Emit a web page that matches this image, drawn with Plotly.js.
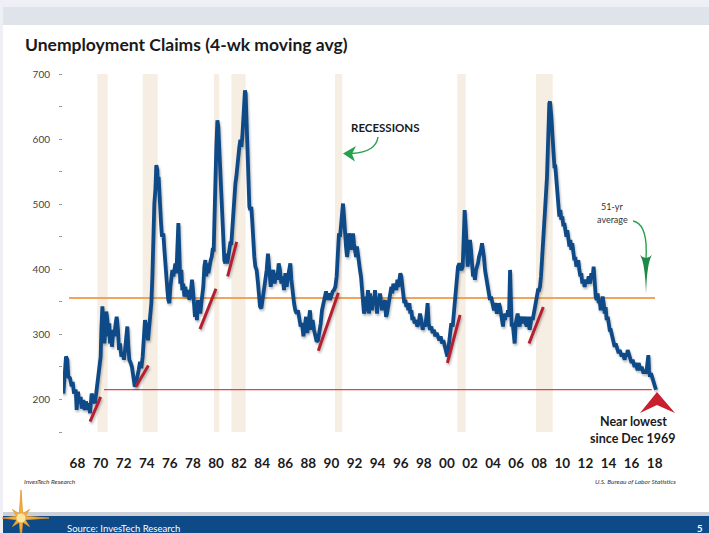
<!DOCTYPE html>
<html>
<head>
<meta charset="utf-8">
<script src="https://cdn.plot.ly/plotly-3.0.1.min.js"></script>
<style>
  html, body { margin: 0; padding: 0; background: #ffffff; }
  #chart { width: 709px; height: 533px; }
  .scatterlayer .trace:nth-child(n+3) path.js-line { filter: drop-shadow(1.5px 2px 1.2px rgba(0,0,0,0.28)); }
</style>
</head>
<body>
<div id="chart"></div>
<script>
// ---------------- DATA ----------------
// Unemployment claims, 4-wk moving average (thousands)
const yearsA = [
 1966.98,1967.21,1967.32,1967.41,1967.55,1967.70,1967.79,1967.90,1968.05,1968.13,
 1968.25,1968.36,1968.48,1968.57,1968.71,1968.83,1968.94,1969.06,1969.17,1969.29,
 1969.43,1969.58,1969.72,1969.86,1970.01,1970.10,1970.21,1970.27,1970.36,1970.44,
 1970.53,1970.62,1970.70,1970.79,1970.88,1970.96,1971.02,1971.11,1971.19,1971.31,
 1971.39,1971.51,1971.60,1971.71,1971.80,1971.89,1972.00,1972.12,1972.23,1972.32,
 1972.41,1972.52,1972.61,1972.69,1972.81,1972.92,1973.04,1973.16,1973.27,1973.39,
 1973.50,1973.62,1973.73,1973.85,1973.96,1974.05,1974.14,1974.22,1974.31,1974.40,
 1974.48,1974.60,1974.69,1974.77,1974.86,1974.95,1975.03,1975.12,1975.18,1975.23,
 1975.29,1975.35,1975.44,1975.52,1975.64,1975.73,1975.81,1975.90,1975.99,1976.07,
 1976.16,1976.25,1976.33,1976.42,1976.51,1976.59,1976.68,1976.77,1976.85,1976.94,
 1977.02,1977.11,1977.20,1977.28,1977.37,1977.46,1977.54,1977.66,1977.78,1977.89,
 1978.01,1978.12,1978.21,1978.30,1978.38,1978.47,1978.55,1978.64,1978.76,1978.84,
 1978.93,1979.02,1979.10,1979.19,1979.28,1979.36,1979.45,1979.54,1979.62,1979.74,
 1979.83,1979.91,1980.00,1980.06,1980.14,1980.23,1980.32,1980.40,1980.49,1980.58,
 1980.66,1980.75,1980.84,1980.92,1981.01,1981.10,1981.18,1981.27,1981.36,1981.44,
 1981.53,1981.62,1981.70,1981.79,1981.88,1981.96,1982.05,1982.14,1982.22,1982.31,
 1982.40,1982.48,1982.57,1982.66,1982.71,1982.77,1982.83,1982.91,1983.00,1983.09,
 1983.17,1983.26,1983.35,1983.43,1983.52,1983.61,1983.72,1983.84,1983.93,1984.01
];
const claimsA = [
 209,266,261,235,233,220,227,209,215,184,
 212,194,204,186,199,184,197,184,194,179,
 209,202,194,215,235,256,266,307,343,317,
 286,307,335,322,297,317,286,302,281,307,
 297,317,327,307,276,286,266,271,261,276,
 297,312,281,261,256,250,235,220,225,240,
 245,258,248,266,297,322,314,307,291,312,
 322,348,389,460,501,522,560,553,522,542,
 512,501,471,450,455,430,404,378,368,353,
 348,373,394,399,389,404,409,394,430,471,
 430,378,399,368,378,358,373,358,368,353,
 363,384,368,348,327,348,322,353,337,332,
 348,358,373,404,414,389,409,394,404,414,
 419,430,430,460,527,588,629,619,578,553,
 537,491,445,414,409,424,409,419,422,440,
 440,466,491,512,532,542,563,578,588,599,
 588,604,640,665,675,670,629,573,537,496,
 491,496,471,440,419,404,399,378,358,343
];
const yearsB = [
 1984.13,1984.24,1984.36,1984.47,1984.59,1984.70,1984.82,1984.94,1985.05,1985.17,
 1985.28,1985.40,1985.51,1985.63,1985.74,1985.86,1985.98,1986.09,1986.21,1986.32,
 1986.44,1986.55,1986.64,1986.73,1986.84,1986.96,1987.07,1987.19,1987.30,1987.42,
 1987.53,1987.65,1987.77,1987.88,1988.00,1988.11,1988.23,1988.34,1988.46,1988.57,
 1988.69,1988.80,1988.92,1989.04,1989.15,1989.27,1989.38,1989.50,1989.61,1989.73,
 1989.84,1989.96,1990.07,1990.19,1990.31,1990.42,1990.54,1990.65,1990.77,1990.85,
 1990.94,1991.03,1991.11,1991.20,1991.29,1991.37,1991.46,1991.55,1991.63,1991.72,
 1991.81,1991.89,1991.98,1992.07,1992.15,1992.24,1992.33,1992.41,1992.50,1992.59,
 1992.67,1992.76,1992.85,1992.93,1993.02,1993.11,1993.19,1993.28,1993.37,1993.45,
 1993.54,1993.63,1993.71,1993.80,1993.89,1993.97,1994.06,1994.15,1994.23,1994.32,
 1994.41,1994.49,1994.58,1994.67,1994.75,1994.84,1994.93,1995.01,1995.10,1995.21,
 1995.30,1995.39,1995.47,1995.56,1995.65,1995.73,1995.82,1995.91,1995.99,1996.08,
 1996.17,1996.25,1996.34,1996.43,1996.51,1996.60,1996.69,1996.77,1996.86,1996.95,
 1997.03,1997.12,1997.21,1997.29,1997.41,1997.52,1997.64,1997.76,1997.87,1997.99,
 1998.10,1998.22,1998.33,1998.45,1998.53,1998.62,1998.74,1998.85,1998.97,1999.08,
 1999.20,1999.31,1999.43,1999.55,1999.66,1999.78,1999.89,2000.01,2000.12,2000.24,
 2000.35,2000.47,2000.58,2000.70,2000.81,2000.93,2001.04,2001.16,2001.28
];
const claimsB = [
 340,353,373,378,399,424,399,373,389,399,
 378,394,384,409,399,378,389,368,394,373,
 389,399,409,384,363,348,337,332,337,322,
 312,317,297,312,327,302,317,337,307,322,
 307,297,289,291,302,317,337,348,358,366,
 353,363,353,363,366,368,373,389,419,455,
 450,465,486,501,481,450,435,419,430,455,
 450,430,445,455,440,424,419,435,419,409,
 399,389,368,348,332,337,358,348,368,332,
 363,348,337,358,348,368,353,332,353,348,
 363,348,337,348,342,353,327,332,342,358,
 368,373,363,378,368,378,368,384,373,389,
 394,389,373,358,348,353,342,348,337,348,
 332,337,322,327,317,322,312,317,332,322,
 307,317,312,332,348,317,307,312,302,307,
 297,302,297,291,297,286,291,281,276,266,
 281,297,317,312,337,368,389,404,409
];
const yearsC = [
 2001.45,2001.57,2001.65,2001.74,2001.83,2001.91,2002.00,2002.09,2002.20,2002.29,
 2002.37,2002.46,2002.55,2002.63,2002.72,2002.81,2002.89,2002.98,2003.07,2003.15,
 2003.24,2003.33,2003.41,2003.50,2003.59,2003.67,2003.76,2003.85,2003.93,2004.02,
 2004.11,2004.19,2004.28,2004.37,2004.45,2004.54,2004.63,2004.71,2004.80,2004.89,
 2004.97,2005.06,2005.15,2005.23,2005.32,2005.41,2005.49,2005.58,2005.67,2005.72,
 2005.81,2005.90,2005.98,2006.07,2006.16,2006.24,2006.33,2006.42,2006.50,2006.59,
 2006.68,2006.76,2006.85,2006.94,2007.02,2007.11,2007.20,2007.28,2007.37,2007.46,
 2007.54,2007.63,2007.72,2007.80,2007.89,2007.98,2008.09,2008.18,2008.26,2008.35,
 2008.44,2008.52,2008.61,2008.70,2008.78,2008.87,2008.96,2009.02,2009.07,2009.13,
 2009.19,2009.25,2009.33,2009.42,2009.51,2009.59,2009.68,2009.77,2009.85,2009.94,
 2010.03,2010.11,2010.20,2010.29,2010.37,2010.46,2010.55,2010.63,2010.72,2010.81,
 2010.89,2010.98,2011.06,2011.15,2011.24,2011.32,2011.41,2011.50,2011.58,2011.67,
 2011.76,2011.84,2011.93,2012.02,2012.13,2012.25,2012.36,2012.48,2012.60,2012.71,
 2012.83,2012.91,2013.00,2013.09,2013.17,2013.26,2013.35,2013.43,2013.52,2013.61,
 2013.69,2013.78,2013.87,2013.95,2014.04,2014.13,2014.21,2014.30,2014.39,2014.47,
 2014.56,2014.65,2014.73,2014.82,2014.91,2014.99,2015.08,2015.17,2015.25,2015.34,
 2015.43,2015.51,2015.60,2015.68,2015.77,2015.86,2015.94,2016.03,2016.12,2016.20,
 2016.29,2016.38,2016.46,2016.55,2016.64,2016.72,2016.81,2016.90,2016.98,2017.07,
 2017.16,2017.24,2017.33,2017.42,2017.50,2017.59,2017.65,2017.71,2017.79,2017.88,
 2017.97,2018.05,2018.14,2018.23,2018.31
];
const claimsC = [
 399,404,440,491,465,419,404,419,445,430,
 399,389,394,384,399,404,409,419,424,430,
 440,430,419,399,389,378,368,358,353,358,
 348,342,337,348,342,332,337,348,342,327,
 317,312,332,322,332,327,337,327,399,327,
 312,317,297,286,317,327,332,317,312,327,
 322,317,327,322,317,312,327,317,307,317,
 327,322,332,337,348,353,368,368,373,389,
 409,440,465,491,512,542,593,640,655,658,
 650,634,609,573,558,558,537,512,491,481,
 491,476,481,466,471,455,450,460,440,435,
 445,430,440,424,414,419,404,409,414,399,
 389,394,378,384,373,384,378,389,378,394,
 389,404,368,358,353,363,348,353,337,353,
 358,348,332,342,322,327,317,307,307,302,
 297,286,281,286,281,276,271,276,271,266,
 271,266,261,271,266,276,271,266,261,256,
 261,256,250,256,250,245,256,250,245,250,
 245,240,245,240,245,261,268,245,235,240,
 235,230,225,220,215
];

// Recession periods (decimal years)
const recessionStart = [1969.92, 1973.85, 1980.03, 1981.53, 1990.51, 2001.10, 2007.92];
const recessionEnd   = [1970.82, 1975.15, 1980.49, 1982.77, 1991.14, 2001.83, 2009.37];

// Pre-recession trend lines (start year, start value, end year, end value)
const trendStartYear = [1969.29, 1973.27, 1978.81, 1981.21, 1989.06, 2000.24, 2007.31];
const trendStartVal  = [166, 220, 308, 389, 275, 256, 286];
const trendEndYear   = [1970.21, 1974.34, 1980.20, 1981.99, 1990.80, 2001.34, 2008.55];
const trendEndVal    = [204, 252, 370, 442, 364, 330, 342];

// Reference levels
const averageValue = 356;           // 51-yr average
const averageSpan  = [1967.47, 2018.23];
const lowValue     = 215;           // near lowest since Dec 1969
const lowSpan      = [1970.50, 2017.95];

// Axis ticks
const xTickYears  = [1968,1970,1972,1974,1976,1978,1980,1982,1984,1986,1988,1990,1992,1994,1996,1998,2000,2002,2004,2006,2008,2010,2012,2014,2016,2018];
const xTickLabels = ['68','70','72','74','76','78','80','82','84','86','88','90','92','94','96','98','00','02','04','06','08','10','12','14','16','18'];
const yTickVals   = [150,200,250,300,350,400,450,500,550,600,650,700];
const yTickLabels = ['','200','','300','','400','','500','','600','','700'];

// ---------------- LAYOUT HELPERS ----------------
const W = 709, H = 533, ML = 63, MR = 39, MT = 74, MB = 101;
const PW = W - ML - MR, PH = H - MT - MB;
const X = px => (px - ML) / PW;
const Y = py => (H - MB - py) / PH;
const pth = pts => 'M ' + pts.map(p => X(p[0]).toFixed(5) + ',' + Y(p[1]).toFixed(5)).join(' L ') + ' Z';
const rectP = (x0, y0, x1, y1, color, layer) => ({type:'rect', xref:'paper', yref:'paper', x0:X(x0), x1:X(x1), y0:Y(y1), y1:Y(y0), fillcolor:color, line:{width:0}, layer: layer || 'below'});

const claimYears = yearsA.concat(yearsB, yearsC);
const claimVals = claimsA.concat(claimsB, claimsC);

const tx = [], ty = [];
for (let i = 0; i < trendStartYear.length; i++) {
  tx.push(trendStartYear[i], trendEndYear[i], null);
  ty.push(trendStartVal[i], trendEndVal[i], null);
}

const traces = [
  {x: averageSpan, y: [averageValue, averageValue], mode: 'lines', line: {color: '#f0a45c', width: 2}, hoverinfo: 'skip'},
  {x: lowSpan, y: [lowValue, lowValue], mode: 'lines', line: {color: '#e0404e', width: 1.3}, hoverinfo: 'skip'},
  {x: claimYears, y: claimVals, mode: 'lines', line: {color: '#0f4a88', width: 3.8, shape: 'linear'}, hoverinfo: 'skip'},
  {x: tx, y: ty, mode: 'lines', line: {color: '#b51f30', width: 3}, connectgaps: false, hoverinfo: 'skip'}
];

const shapes = [];
// page decoration
shapes.push(rectP(3, 25, 709, 513, '#ffffff'));
shapes.push(rectP(3, 7, 709, 25, '#dfe3ea'));
shapes.push(rectP(3, 512, 709, 516, '#cdd1d7'));
shapes.push(rectP(3, 516, 709, 533, '#0e4a87'));
// recession bands
for (let i = 0; i < recessionStart.length; i++) {
  shapes.push({type:'rect', xref:'x', yref:'paper', x0: recessionStart[i], x1: recessionEnd[i], y0: 0, y1: 1,
               fillcolor: '#f7eee3', line: {width: 0}, layer: 'below'});
}
// compass star logo
(function(){
  const cx = 21, cy = 518;
  const lens = [28, 12, 28, 12, 22, 12, 19, 12];
  const pts = [];
  for (let k = 0; k < 8; k++) {
    const a = (k * 45 - 90) * Math.PI / 180;
    pts.push([cx + lens[k] * Math.cos(a), cy + lens[k] * Math.sin(a)]);
    const b = (k * 45 - 90 + 22.5) * Math.PI / 180;
    pts.push([cx + 4.5 * Math.cos(b), cy + 4.5 * Math.sin(b)]);
  }
  shapes.push({type:'path', xref:'paper', yref:'paper', path: pth(pts), fillcolor:'#f3b23c', line:{color:'#e0962a', width:0.8}, layer:'above'});
  shapes.push({type:'circle', xref:'paper', yref:'paper', x0:X(cx-5), x1:X(cx+5), y0:Y(cy+5), y1:Y(cy-5), fillcolor:'#fce4a2', line:{color:'#e6a53a', width:0.8}, layer:'above'});
})();
// RECESSIONS arrow
shapes.push({type:'path', xref:'paper', yref:'paper',
  path: 'M ' + X(378) + ',' + Y(137) + ' Q ' + X(376) + ',' + Y(152) + ' ' + X(352) + ',' + Y(153.5),
  line: {color: '#27a04b', width: 1.4}, layer: 'above'});
shapes.push({type:'path', xref:'paper', yref:'paper', path: pth([[343,153.5],[356,146],[352,154],[355,161.5]]),
  fillcolor: '#27a04b', line: {width: 0}, layer: 'above'});
// 51-yr average arrow
shapes.push({type:'path', xref:'paper', yref:'paper',
  path: 'M ' + X(633) + ',' + Y(221) + ' Q ' + X(648) + ',' + Y(224) + ' ' + X(646) + ',' + Y(258),
  line: {color: '#27a04b', width: 1.4}, layer: 'above'});
shapes.push({type:'path', xref:'paper', yref:'paper',
  path: 'M ' + X(640) + ',' + Y(255) + ' Q ' + X(645) + ',' + Y(262) + ' ' + X(646) + ',' + Y(294) +
        ' Q ' + X(647) + ',' + Y(262) + ' ' + X(652) + ',' + Y(255) +
        ' Q ' + X(646) + ',' + Y(261) + ' ' + X(640) + ',' + Y(255) + ' Z',
  fillcolor: '#1c8a44', line: {width: 0}, layer: 'above'});
// red arrow head "near lowest"
shapes.push({type:'path', xref:'paper', yref:'paper', path: pth([[657,392],[675,413],[657,405],[640,413]]),
  fillcolor: '#c8202f', line: {width: 0}, layer: 'above'});

const ann = (px, py, text, opts) => Object.assign({xref:'paper', yref:'paper', x: X(px), y: Y(py), text: text,
  showarrow: false, xanchor: 'center', yanchor: 'middle', font: {family: 'Lato, "Open Sans", sans-serif', size: 11, color: '#1a1a1a'}}, opts || {});

const annotations = [
  ann(385, 127, '<b>RECESSIONS</b>', {font: {family: 'Lato, sans-serif', size: 11.5, color: '#1a1a1a'}}),
  ann(612, 206, '51-yr', {font: {family: 'Lato, sans-serif', size: 9, color: '#333'}}),
  ann(612, 219, 'average', {font: {family: 'Lato, sans-serif', size: 9, color: '#333'}}),
  ann(633, 421.5, '<b>Near lowest</b>', {font: {family: 'Lato, sans-serif', size: 12.5, color: '#1a1a1a'}}),
  ann(633, 438.5, '<b>since Dec 1969</b>', {font: {family: 'Lato, sans-serif', size: 12.5, color: '#1a1a1a'}}),
  ann(22, 481.5, '<i>InvesTech Research</i>', {xanchor: 'left', font: {family: 'Lato, sans-serif', size: 6.5, color: '#333'}}),
  ann(678, 481.5, '<i>U.S. Bureau of Labor Statistics</i>', {xanchor: 'right', font: {family: 'Lato, sans-serif', size: 6.5, color: '#333'}}),
  ann(65, 528.5, 'Source: InvesTech Research', {xanchor: 'left', font: {family: 'Lato, sans-serif', size: 9.5, color: '#ffffff'}}),
  ann(700, 528, '<b>5</b>', {font: {family: 'Lato, sans-serif', size: 9.5, color: '#ffffff'}})
];

const layout = {
  width: W, height: H,
  margin: {l: ML, r: MR, t: MT, b: MB, pad: 0},
  paper_bgcolor: '#eef0f6',
  plot_bgcolor: 'rgba(0,0,0,0)',
  showlegend: false,
  title: {text: '<b>Unemployment Claims (4-wk moving avg)</b>', xref: 'container', yref: 'container',
          x: 25 / W, xanchor: 'left', y: 1 - 45 / H, yanchor: 'middle',
          font: {family: 'Lato, "Open Sans", sans-serif', size: 17.5, color: '#1a1a1a'}},
  xaxis: {type: 'linear', range: [1966.948, 1966.948 + PW / 11.545], showgrid: false, zeroline: false, showline: false,
          tickmode: 'array', tickvals: xTickYears.map(v => v + 0.2), ticktext: xTickLabels, ticks: '',
          ticklabelstandoff: 21,
          tickfont: {family: 'Lato, sans-serif', size: 13.5, color: '#1a1a1a', weight: 'bold'}, fixedrange: true},
  yaxis: {range: [150, 700], showgrid: false, zeroline: false, showline: false,
          tickmode: 'array', tickvals: yTickVals, ticktext: yTickLabels, ticks: 'outside', ticklen: 3, tickwidth: 1,
          tickcolor: '#9a9a9a', ticklabelstandoff: 7,
          tickfont: {family: 'Lato, sans-serif', size: 10, color: '#444'}, fixedrange: true},
  shapes: shapes,
  annotations: annotations
};

Plotly.newPlot('chart', traces, layout, {displayModeBar: false, staticPlot: true});
</script>
</body>
</html>
